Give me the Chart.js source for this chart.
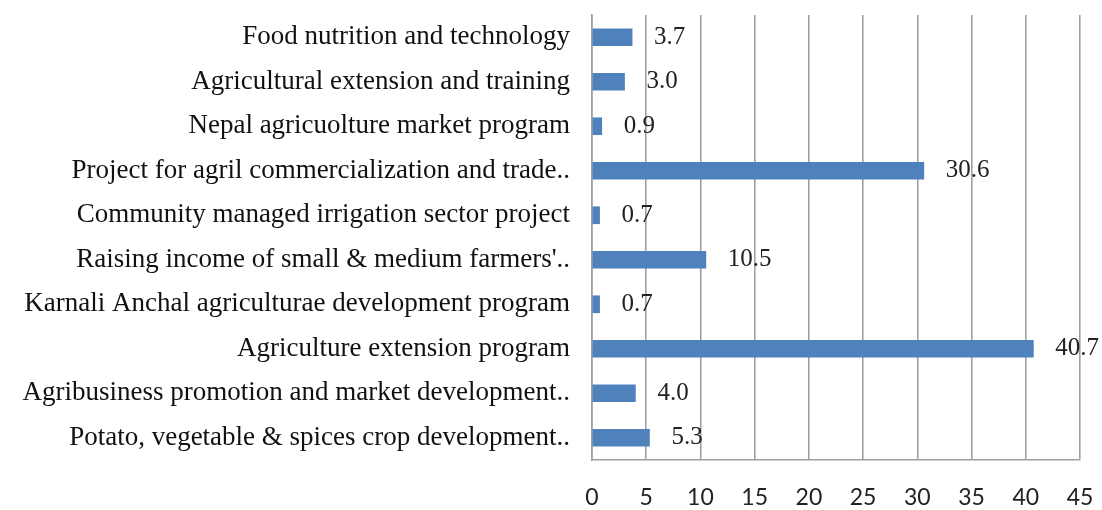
<!DOCTYPE html>
<html>
<head>
<meta charset="utf-8">
<script src="https://cdn.jsdelivr.net/npm/chart.js@4/dist/chart.umd.min.js"></script>
<style>
  html, body { margin: 0; padding: 0; background: #fff; }
  #wrap { width: 1102px; height: 510px; }
</style>
</head>
<body>
<div id="wrap"><canvas id="chart"></canvas></div>
<script>
// categorias (de arriba hacia abajo) y valores en %
const categories = [
    'Food nutrition and technology',
    'Agricultural extension and training',
    'Nepal agricuolture market program',
    'Project for agril commercialization and trade..',
    'Community managed irrigation sector project',
    "Raising income of small & medium farmers'..",
    'Karnali Anchal agriculturae development program',
    'Agriculture extension program',
    'Agribusiness promotion and market development..',
    'Potato, vegetable & spices crop development..'
];
const values = [3.7, 3.0, 0.9, 30.6, 0.7, 10.5, 0.7, 40.7, 4.0, 5.3];
const xTicks = [0, 5, 10, 15, 20, 25, 30, 35, 40, 45];

// etiquetas de valor a la derecha de cada barra
const valueLabels = {
    id: 'valueLabels',
    afterDatasetsDraw(chart) {
        const ctx = chart.ctx;
        const meta = chart.getDatasetMeta(0);
        ctx.save();
        ctx.font = '25px "Liberation Serif", serif';
        ctx.fillStyle = '#222';
        ctx.textAlign = 'left';
        ctx.textBaseline = 'middle';
        meta.data.forEach((bar, i) => {
            ctx.fillText(values[i].toFixed(1), bar.x + 22, bar.y);
        });
        ctx.restore();
    }
};

const ctx = document.getElementById('chart').getContext('2d');
const chart = new Chart(ctx, {
    type: 'bar',
    data: {
        labels: categories,
        datasets: [{
            data: values,
            backgroundColor: '#4f81bd',
            barThickness: 17
        }]
    },
    options: {
        indexAxis: 'y',
        responsive: true,
        maintainAspectRatio: false,
        animation: false,
        layout: { padding: { top: 15, right: 22, bottom: 0, left: 0 } },
        plugins: {
            legend: { display: false },
            tooltip: { enabled: false }
        },
        scales: {
            x: {
                min: 0,
                max: 45,
                afterBuildTicks: scale => { scale.ticks = xTicks.map(v => ({ value: v })); },
                afterFit: scale => {
                    scale.height = 50;
                    scale.paddingLeft = 0;
                    scale.paddingRight = 0;
                },
                grid: { color: '#a0a0a0', lineWidth: 1.6, drawTicks: false },
                border: { color: '#a0a0a0', width: 1.6 },
                ticks: {
                    padding: 24,
                    color: '#222',
                    font: { family: 'Lato', size: 23 }
                }
            },
            y: {
                afterFit: scale => {
                    scale.width = 592;
                    scale.paddingTop = 0;
                    scale.paddingBottom = 0;
                },
                grid: { display: false, drawTicks: false },
                border: { color: '#a0a0a0', width: 1.6 },
                ticks: {
                    padding: 22,
                    color: '#111',
                    font: { family: '"Liberation Serif", serif', size: 27 }
                }
            }
        }
    },
    plugins: [valueLabels]
});
</script>
</body>
</html>
